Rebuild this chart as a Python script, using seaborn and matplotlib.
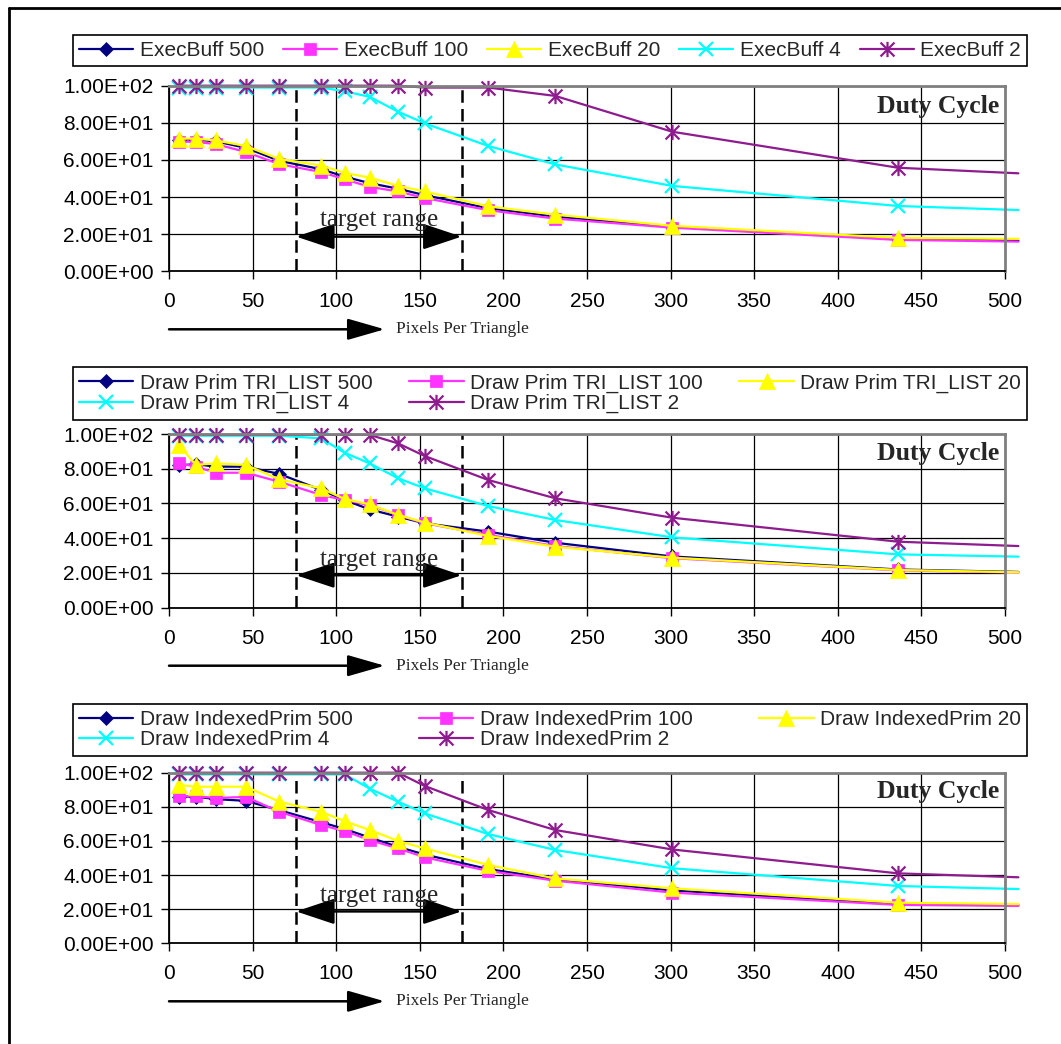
import matplotlib
matplotlib.use("Agg")
import matplotlib.pyplot as plt
import matplotlib.transforms as mtransforms
from matplotlib.lines import Line2D
from matplotlib.path import Path
from matplotlib.patches import ArrowStyle
from matplotlib.ticker import FuncFormatter, MultipleLocator
import seaborn as sns

# pixels per triangle (x positions of the measurements)
x_ppt = [6, 16, 28, 46, 66, 91, 105, 120, 137, 153, 191, 231, 301, 436, 508]

# duty cycle values, one list per series
exec_500 = [71, 71, 70, 66.5, 59.5, 55, 51, 47.5, 44.5, 41, 34, 29.5, 24, 17.5, 16.5]
exec_100 = [69.8, 69.8, 68.5, 64.3, 57.7, 53.5, 49.6, 45.5, 43, 39.5, 32.9, 28.4, 23.5, 16.9, 16]
exec_20 = [71.5, 71.5, 70.5, 67.5, 60.5, 57, 53, 50.5, 46, 43, 35, 30.5, 24.5, 18, 17.5]
exec_4 = [99, 99, 99, 99, 99, 99, 97, 94, 86, 79.7, 67.5, 57.6, 46, 35.2, 33]
exec_2 = [100, 100, 100, 100, 100, 100, 100, 100, 100, 99, 99, 94.5, 75.2, 55.8, 52.8]

tri_500 = [82, 82.6, 81.2, 81.2, 77, 67.8, 62, 56.6, 52.4, 48.6, 43.8, 37.4, 29.5, 22, 20.6]
tri_100 = [83.1, 81.2, 77.7, 77.7, 72.5, 64.9, 62, 59.1, 53.4, 48.6, 41.9, 35.5, 28.5, 21.5, 20.2]
tri_20 = [93.7, 82.2, 83.1, 82.2, 73.9, 68.7, 62.6, 59.5, 53.4, 49, 41.3, 35.1, 28.8, 21.7, 20.4]
tri_4 = [99, 99, 99, 99, 99, 97.5, 89.2, 83.1, 74.5, 68.7, 58.5, 50.5, 40.5, 30.7, 29.4]
tri_2 = [99.5, 99.5, 99.5, 99.5, 99.5, 99.5, 99.5, 99.5, 94.6, 87.3, 73.5, 63, 51.8, 38, 35.5]

idx_500 = [86, 86, 84.5, 83.5, 78, 71, 67, 62, 56.5, 52, 43.5, 37.5, 31, 23, 22.5]
idx_100 = [86.2, 86.2, 85.2, 85.8, 77.1, 69.3, 65.8, 60.5, 55.6, 50.4, 42.4, 36.7, 29.7, 22.5, 21.9]
idx_20 = [92.8, 91.8, 91.8, 91.8, 83, 77.1, 71.6, 66.4, 60, 55.6, 45.9, 38, 32.2, 23.8, 23]
idx_4 = [99, 99, 99, 99, 99, 99, 99, 90.7, 83, 76.1, 64, 54.7, 44, 33.6, 31.8]
idx_2 = [100, 100, 100, 100, 100, 100, 100, 100, 100, 92.2, 78.1, 66.4, 55, 41, 38.7]

buffer_sizes = ["500", "100", "20", "4", "2"]
panel_names = ["ExecBuff", "Draw Prim TRI_LIST", "Draw IndexedPrim"]
panel_data = [
    [exec_500, exec_100, exec_20, exec_4, exec_2],
    [tri_500, tri_100, tri_20, tri_4, tri_2],
    [idx_500, idx_100, idx_20, idx_4, idx_2],
]
target_lo, target_hi = 76, 175

# Excel-like star marker: an x with a vertical bar
star = Path([(-1, -1), (1, 1), (-1, 1), (1, -1), (0, -1.1), (0, 1.1)],
            [Path.MOVETO, Path.LINETO, Path.MOVETO, Path.LINETO, Path.MOVETO, Path.LINETO])

colors = ["#000080", "#FF33FF", "#FFFF00", "#00FFFF", "#8E1C8E"]
markers = ["D", "s", "^", "x", star]
msizes = [7, 9, 12, 10, 11]

sns.set_style("white")
plt.rcParams['font.family'] = ['Liberation Sans', 'DejaVu Sans']

W, H = 1061, 1044
fig = plt.figure(figsize=(W / 100, H / 100), dpi=100)

axes_px = [(85.7, 271.3), (434, 607.7), (772.7, 943.3)]
legend_px = [(30, 70.7), (366, 421), (702.7, 757)]
left_px, right_px = 169, 1005

# the last point sits past the axis edge: line only, no marker
marked = list(range(len(x_ppt) - 1))

for p, name in enumerate(panel_names):
    top, bot = axes_px[p]
    ax = fig.add_axes([left_px / W, 1 - bot / H, (right_px - left_px) / W, (bot - top) / H])

    handles = []
    for i, size in enumerate(buffer_sizes):
        sns.lineplot(x=x_ppt, y=panel_data[p][i], ax=ax, color=colors[i],
                     marker=markers[i], markersize=msizes[i], markevery=marked,
                     markeredgecolor=colors[i], markerfacecolor=colors[i],
                     markeredgewidth=1.6 if i >= 3 else 0.5,
                     linewidth=1.6, clip_on=False, legend=False)
        handles.append(ax.lines[-1])
    labels = [f"{name} {s}" for s in buffer_sizes]

    ax.set_xlim(0, 500)
    ax.set_ylim(0, 100)
    ax.xaxis.set_major_locator(MultipleLocator(50))
    ax.yaxis.set_major_locator(MultipleLocator(20))
    ax.yaxis.set_major_formatter(FuncFormatter(lambda v, pos: f"{v:.2E}"))
    ax.set_xlabel("")
    ax.set_ylabel("")
    ax.grid(True, color="black", linewidth=0.9)
    ax.set_axisbelow(True)
    ax.tick_params(bottom=True, left=True, direction="out", length=6, width=1,
                   labelsize=15, pad=5, colors="black")
    ax.tick_params(axis="x", pad=9)
    for side in ["top", "right"]:
        ax.spines[side].set_color("#808080")
        ax.spines[side].set_linewidth(2)
    for side in ["left", "bottom"]:
        ax.spines[side].set_color("black")
        ax.spines[side].set_linewidth(1.3)

    # target range markers
    for xv in (target_lo, target_hi):
        ax.axvline(xv, color="black", linewidth=1.8, linestyle=(0, (5, 2.5)), zorder=1.5)
    ax.annotate("", xy=(target_lo, 18.7), xytext=(target_hi, 18.7),
                arrowprops=dict(arrowstyle=ArrowStyle("<|-|>", head_length=1.2, head_width=0.4),
                                mutation_scale=20, color="black", lw=1.8,
                                shrinkA=0, shrinkB=0))
    ax.text((target_lo + target_hi) / 2, 27.5, "target range", ha="center", va="center",
            family="Liberation Serif", fontsize=18)
    ax.text(0.993, 0.89, "Duty Cycle", transform=ax.transAxes, ha="right", va="center",
            family="Liberation Serif", fontweight="bold", fontsize=18.5)

    # axis caption arrow below the ticks
    below = mtransforms.offset_copy(ax.transAxes, fig=fig, y=-58, units="dots")
    ax.annotate("", xy=(0.258, 0), xycoords=below, xytext=(0, 0), textcoords=below,
                annotation_clip=False,
                arrowprops=dict(arrowstyle=ArrowStyle("-|>", head_length=1.15, head_width=0.33),
                                mutation_scale=20, color="black", lw=1.8,
                                shrinkA=0, shrinkB=0))
    ax.text(0.2715, 0, "Pixels Per Triangle", transform=below, ha="left", va="center",
            family="Liberation Serif", fontsize=12.5)

    # legend above each panel
    ltop, lbot = legend_px[p]
    if p == 0:
        order, ncol = [0, 1, 2, 3, 4], 5
    else:
        order, ncol = [0, 3, 1, 4, 2], 3
    leg = ax.legend([handles[k] for k in order], [labels[k] for k in order],
                    loc="center", bbox_to_anchor=(73 / W, 1 - lbot / H, 954 / W, (lbot - ltop) / H),
                    bbox_transform=fig.transFigure, mode="expand", ncol=ncol,
                    frameon=True, fancybox=False, edgecolor="black", framealpha=1,
                    fontsize=15, handlelength=2.6, handletextpad=0.3, columnspacing=0.5,
                    borderaxespad=0, labelspacing=0.05, borderpad=0.3)
    leg.get_frame().set_linewidth(1.2)
    # one marker in the middle of each legend line
    for lh in leg.legend_handles:
        lh.set_markevery([1])

# outer frame (top and left edges visible)
fig.add_artist(Line2D([9 / W, 9 / W], [0, 1 - 8 / H], transform=fig.transFigure,
                      color="black", linewidth=2))
fig.add_artist(Line2D([9 / W, 1], [1 - 8 / H, 1 - 8 / H], transform=fig.transFigure,
                      color="black", linewidth=2))

fig.savefig("out.png", dpi=100)
